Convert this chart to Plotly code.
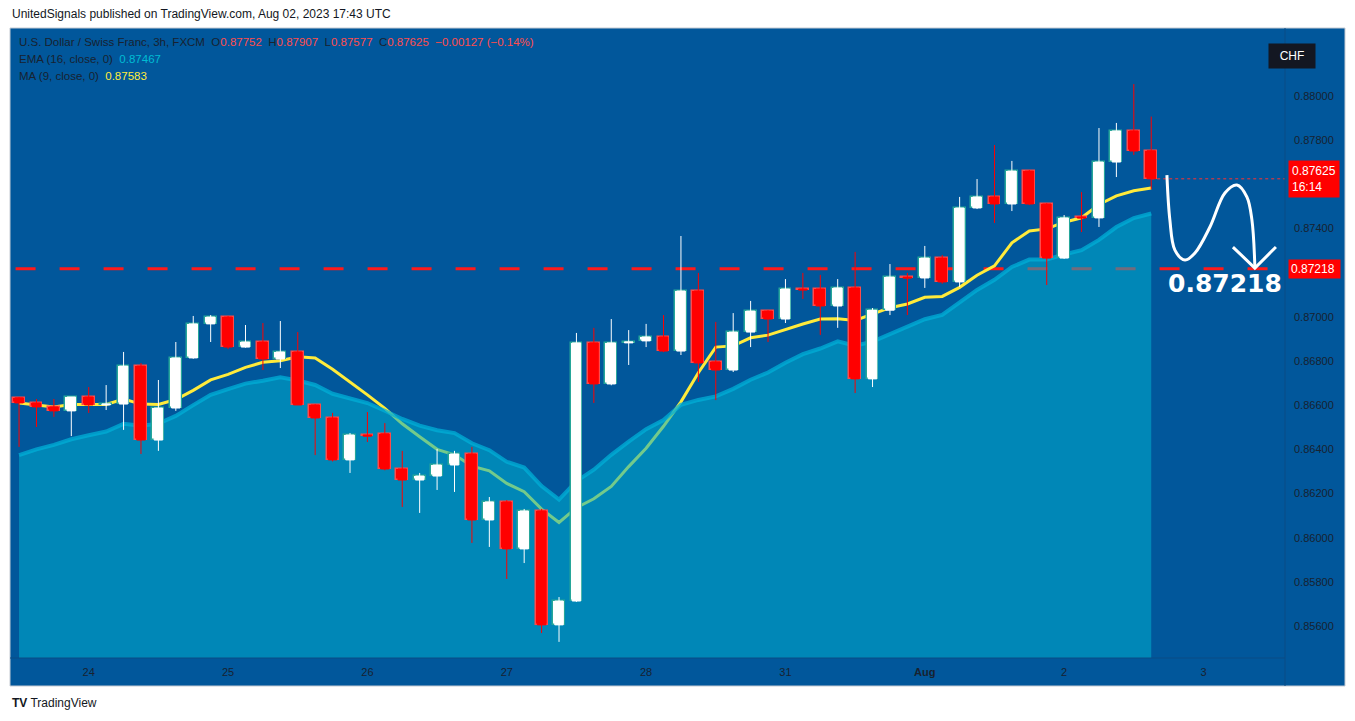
import plotly.graph_objects as go
import pandas as pd

# 3h candles, USD/CHF (FXCM)
opens = [0.86633, 0.86610, 0.86592, 0.86574, 0.86637, 0.86601, 0.86605, 0.86777, 0.86442, 0.86587,
         0.86814, 0.86968, 0.86999, 0.86863, 0.86886, 0.86809, 0.86841, 0.86601, 0.86542, 0.86352,
         0.86465, 0.86470, 0.86311, 0.86261, 0.86279, 0.86329, 0.86379, 0.86080, 0.86162, 0.85949,
         0.86121, 0.85605, 0.85713, 0.86882, 0.86696, 0.86882, 0.86891, 0.86909, 0.86845, 0.87117,
         0.86796, 0.86759, 0.86931, 0.87026, 0.86990, 0.87126, 0.87126, 0.87049, 0.87131, 0.86719,
         0.87030, 0.87180, 0.87176, 0.87266, 0.87158, 0.87493, 0.87543, 0.87511, 0.87660, 0.87511,
         0.87266, 0.87452, 0.87448, 0.87701, 0.87842, 0.87752]
highs = [0.86637, 0.86628, 0.86628, 0.86637, 0.86682, 0.86691, 0.86841, 0.86791, 0.86714, 0.86886,
         0.87004, 0.87008, 0.87004, 0.86963, 0.86972, 0.86981, 0.86931, 0.86605, 0.86565, 0.86474,
         0.86569, 0.86519, 0.86393, 0.86293, 0.86402, 0.86393, 0.86411, 0.86184, 0.86170, 0.86130,
         0.86130, 0.85731, 0.86927, 0.86950, 0.86990, 0.86940, 0.86968, 0.87008, 0.87366, 0.87199,
         0.86977, 0.87017, 0.87072, 0.87030, 0.87171, 0.87199, 0.87190, 0.87171, 0.87294, 0.87040,
         0.87239, 0.87199, 0.87321, 0.87280, 0.87543, 0.87624, 0.87778, 0.87706, 0.87665, 0.87515,
         0.87461, 0.87565, 0.87855, 0.87878, 0.88054, 0.87907]
lows = [0.86411, 0.86501, 0.86547, 0.86460, 0.86565, 0.86578, 0.86488, 0.86379, 0.86393, 0.86574,
        0.86810, 0.86886, 0.86854, 0.86860, 0.86759, 0.86768, 0.86601, 0.86374, 0.86345, 0.86293,
        0.86433, 0.86305, 0.86139, 0.86112, 0.86216, 0.86207, 0.85976, 0.85958, 0.85813, 0.85885,
        0.85568, 0.85528, 0.85709, 0.86610, 0.86690, 0.86782, 0.86863, 0.86840, 0.86827, 0.86705,
        0.86623, 0.86750, 0.86863, 0.86886, 0.86972, 0.87081, 0.86918, 0.86950, 0.86655, 0.86682,
        0.87008, 0.87008, 0.87131, 0.87150, 0.87135, 0.87488, 0.87425, 0.87479, 0.87506, 0.87144,
        0.87262, 0.87384, 0.87407, 0.87633, 0.87733, 0.87577]
closes = [0.86610, 0.86592, 0.86574, 0.86637, 0.86601, 0.86605, 0.86777, 0.86442, 0.86587, 0.86814,
          0.86968, 0.86999, 0.86863, 0.86886, 0.86809, 0.86841, 0.86601, 0.86542, 0.86352, 0.86465,
          0.86460, 0.86311, 0.86261, 0.86279, 0.86329, 0.86379, 0.86080, 0.86162, 0.85949, 0.86121,
          0.85605, 0.85713, 0.86882, 0.86696, 0.86882, 0.86886, 0.86909, 0.86845, 0.87117, 0.86791,
          0.86759, 0.86931, 0.87026, 0.86990, 0.87126, 0.87122, 0.87049, 0.87131, 0.86719, 0.87030,
          0.87180, 0.87176, 0.87266, 0.87158, 0.87493, 0.87543, 0.87511, 0.87660, 0.87511, 0.87266,
          0.87448, 0.87448, 0.87701, 0.87842, 0.87751, 0.87625]

ema_start = 0.86374   # EMA(16) value at the first visible bar
day_labels = ["24", "25", "26", "27", "28", "31", "<b>Aug</b>", "2", "3"]
day_bars = [4, 12, 20, 28, 36, 44, 52, 60, 68]
y_ticks = [0.856, 0.858, 0.860, 0.862, 0.864, 0.866, 0.868, 0.870, 0.874, 0.878, 0.880]
target = 0.87218
last_close = 0.87625

# hand drawn arrow (bar index, price)
draw_x = [65.90, 66.07, 66.36, 66.94, 67.51, 68.37, 69.23, 69.92, 70.49, 70.78, 70.95]
draw_y = [0.87642, 0.87439, 0.87302, 0.87257, 0.87289, 0.87407, 0.87561, 0.87597, 0.87543, 0.87439, 0.87226]
head_x = [69.69, 70.95, 72.16]
head_y = [0.87316, 0.87221, 0.87316]

idx = list(range(len(closes)))
cl = pd.Series(closes)
ma9 = cl.rolling(9, min_periods=1).mean()
ema = [ema_start]
k = 2 / 17
for c in closes[1:]:
    ema.append(ema[-1] + k * (c - ema[-1]))

BG = "#01579b"
FONT = "Liberation Sans"
XR = [-0.52, 72.68]
YR = [0.85455, 0.88308]
up = [c >= o for o, c in zip(opens, closes)]

fig = go.Figure()

fig.add_trace(go.Scatter(x=[-0.2, 71.8], y=[target, target], mode="lines",
                         line=dict(color="#ff1a1a", width=3, dash="20px,24px"), hoverinfo="skip"))
fig.add_trace(go.Scatter(x=idx, y=ma9, mode="lines", line=dict(color="#ffeb3b", width=3)))
fig.add_trace(go.Scatter(x=idx, y=ema, mode="lines", fill="tozeroy",
                         fillcolor="rgba(0,175,205,0.55)",
                         line=dict(color="rgba(0,175,215,0.75)", width=4)))
fig.add_trace(go.Scatter(x=[idx[-1], 73], y=[last_close, last_close], mode="lines",
                         line=dict(color="#ff3030", width=1, dash="dot"), hoverinfo="skip"))

# candles live on an overlay axis so they sit above the EMA area
fig.add_trace(go.Candlestick(x=idx, open=opens, high=highs, low=lows, close=closes, whiskerwidth=0,
                             xaxis="x2", yaxis="y2",
                             increasing=dict(line=dict(color="white", width=1), fillcolor="white"),
                             decreasing=dict(line=dict(color="#ff0000", width=1), fillcolor="#ff0000")))
fig.add_trace(go.Bar(x=idx, base=[min(o, c) for o, c in zip(opens, closes)],
                     y=[max(abs(c - o), 0.00003) for o, c in zip(opens, closes)], width=0.68,
                     xaxis="x2", yaxis="y2",
                     marker=dict(color=["white" if u else "#ff0000" for u in up],
                                 line=dict(color=["#26a69a" if u else "#ff4a4a" for u in up], width=1.5))))

fig.add_trace(go.Scatter(x=draw_x, y=draw_y, mode="lines", xaxis="x2", yaxis="y2",
                         line=dict(color="white", width=3, shape="spline")))
fig.add_trace(go.Scatter(x=head_x, y=head_y, mode="lines", xaxis="x2", yaxis="y2",
                         line=dict(color="white", width=3)))

fig.add_annotation(x=69.23, y=0.87149, text="<b>0.87218</b>", showarrow=False,
                   font=dict(family="DejaVu Sans", size=25, color="white"))

# price labels on the axis
fig.add_annotation(xref="paper", x=1.002, xanchor="left", y=last_close, yanchor="middle",
                   text="0.87625<br>16:14", showarrow=False, align="left", bgcolor="#ff0000",
                   font=dict(family=FONT, size=12, color="white"), borderpad=3)
fig.add_annotation(xref="paper", x=1.002, xanchor="left", y=target, yanchor="middle",
                   text="0.87218 ", showarrow=False, align="left", bgcolor="#ff0000",
                   font=dict(family=FONT, size=12, color="white"), borderpad=2)

# legend lines
red = "#ff4d4d"
dark = "#182230"
info = [
    (f"U.S. Dollar / Swiss Franc, 3h, FXCM  O<span style='color:{red}'>0.87752</span>  "
     f"H<span style='color:{red}'>0.87907</span>  L<span style='color:{red}'>0.87577</span>  "
     f"C<span style='color:{red}'>0.87625</span>  <span style='color:{red}'>−0.00127 (−0.14%)</span>", 42),
    ("EMA (16, close, 0)  <span style='color:#00bcd4'>0.87467</span>", 59),
    ("MA (9, close, 0)  <span style='color:#ffeb3b'>0.87583</span>", 76),
]
for txt, py in info:
    fig.add_annotation(xref="paper", yref="paper", x=7 / 1275, y=1 - (py - 28) / 630, xanchor="left",
                       yanchor="middle", text=txt, showarrow=False, font=dict(family=FONT, size=11.5, color=dark))

fig.add_annotation(xref="paper", yref="paper", x=(1316 - 10) / 1275, y=1 - (43 - 28) / 630,
                   text="CHF", showarrow=False, bgcolor="#131722", borderpad=5, width=36,
                   font=dict(family=FONT, size=12, color="white"))
fig.add_annotation(xref="paper", yref="paper", x=0, y=1 + 14 / 630, xanchor="left", yanchor="middle",
                   text="UnitedSignals published on TradingView.com, Aug 02, 2023 17:43 UTC",
                   showarrow=False, font=dict(family=FONT, size=12, color="#131722"))
fig.add_annotation(xref="paper", yref="paper", x=0, y=-(703 - 658) / 630, xanchor="left", yanchor="middle",
                   text="<b>TV</b> TradingView", showarrow=False, font=dict(family=FONT, size=12, color="#131722"))

# blue frame around axes
fig.add_shape(type="rect", xref="paper", yref="paper", x0=0, x1=(1345 - 10) / 1275, y0=-28 / 630, y1=1,
              fillcolor=BG, line=dict(color="#c5cbd3", width=1), layer="below")
fig.add_shape(type="line", xref="paper", yref="paper", x0=1, x1=1, y0=-28 / 630, y1=1,
              line=dict(color="#0b4c85", width=1))
fig.add_shape(type="line", xref="paper", yref="paper", x0=0, x1=1, y0=0, y1=0,
              line=dict(color="#0b4c85", width=1))

# page body adds an 8px margin, so the figure is shifted up/left by that
fig.update_layout(
    width=1347, height=713, margin=dict(l=2, r=70, t=20, b=63, autoexpand=False),
    paper_bgcolor="white", plot_bgcolor=BG, showlegend=False, bargap=0,
    font=dict(family=FONT, size=11, color=dark),
    xaxis=dict(range=XR, tickvals=day_bars, ticktext=day_labels, showgrid=False,
               zeroline=False, rangeslider=dict(visible=False), ticks="", ticklabelstandoff=6,
               tickfont=dict(size=11, color=dark)),
    yaxis=dict(range=YR, side="right", tickvals=y_ticks, tickformat=".5f",
               showgrid=False, zeroline=False, ticks="", ticklabelstandoff=8,
               tickfont=dict(size=11, color=dark)),
    xaxis2=dict(range=XR, overlaying="x", visible=False, rangeslider=dict(visible=False)),
    yaxis2=dict(range=YR, overlaying="y", visible=False),
)

fig.write_html("out.html")
